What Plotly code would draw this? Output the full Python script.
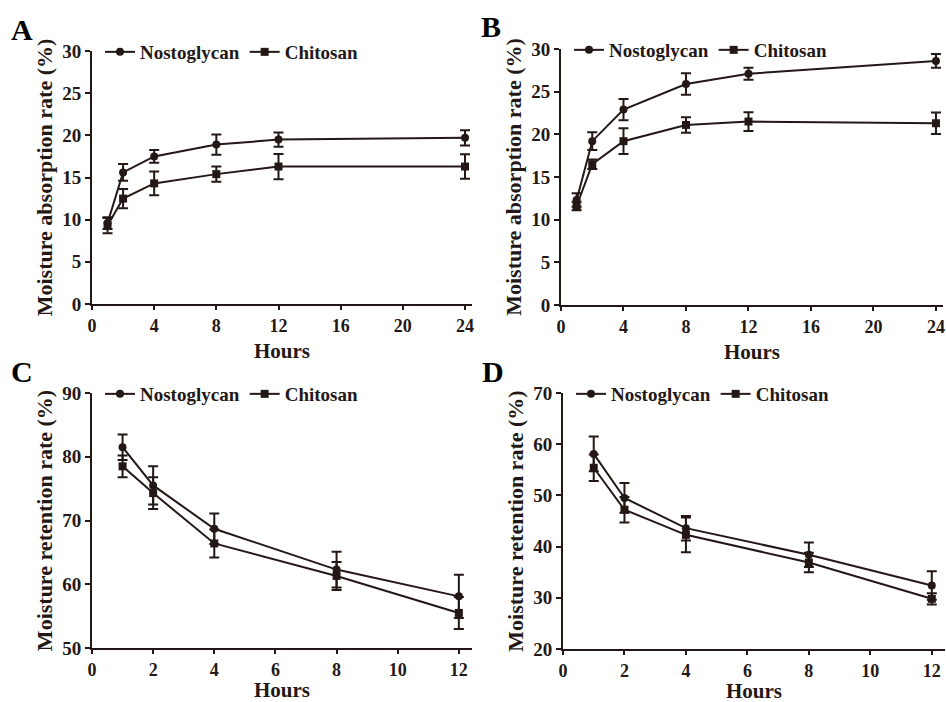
import plotly.graph_objects as go

W, H = 946, 702
INK = "#231815"
FONT = "Liberation Serif, Times New Roman, serif"

# ---- data ----
hours_ab = [1, 2, 4, 8, 12, 24]
hours_cd = [1, 2, 4, 8, 12]

a_nosto = [9.6, 15.6, 17.5, 18.9, 19.5, 19.7]
a_nosto_err = [0.7, 1.0, 0.75, 1.2, 0.85, 0.9]
a_chito = [9.3, 12.5, 14.3, 15.4, 16.3, 16.3]
a_chito_err = [0.9, 1.15, 1.4, 0.9, 1.5, 1.45]

b_nosto = [12.3, 19.2, 22.9, 25.9, 27.1, 28.6]
b_nosto_err = [0.8, 1.05, 1.25, 1.25, 0.7, 0.8]
b_chito = [11.6, 16.5, 19.2, 21.1, 21.5, 21.3]
b_chito_err = [0.5, 0.55, 1.5, 0.9, 1.1, 1.25]

c_nosto = [81.5, 75.5, 68.7, 62.3, 58.1]
c_nosto_err = [2.0, 3.0, 2.4, 2.8, 3.4]
c_chito = [78.5, 74.3, 66.4, 61.3, 55.5]
c_chito_err = [1.7, 2.5, 2.2, 2.2, 2.5]

d_nosto = [58.1, 49.5, 43.6, 38.4, 32.4]
d_nosto_err = [3.4, 2.9, 2.4, 2.4, 2.8]
d_chito = [55.4, 47.2, 42.3, 36.9, 29.8]
d_chito_err = [2.6, 2.5, 3.4, 1.9, 1.1]

series_names = ["Nostoglycan", "Chitosan"]
panel_letters = ["A", "B", "C", "D"]
ytitles = ["Moisture absorption rate (%)", "Moisture absorption rate (%)",
           "Moisture retention rate (%)", "Moisture retention rate (%)"]
xtitle = "Hours"

# ---- layout geometry (pixels) ----
# (x0, x1, ytop, ybottom)
boxes = [(92, 472, 51, 304), (561, 943, 49, 305), (92, 472, 393, 648), (563, 945, 393, 649)]
xtitle_gap = [47, 47, 42, 42]
xranges = [[0, 24.45], [0, 24.45], [0, 12.43], [0, 12.43]]
xticks = [list(range(0, 25, 4)), list(range(0, 25, 4)), list(range(0, 13, 2)), list(range(0, 13, 2))]
yranges = [[0, 30], [0, 30], [50, 90], [20, 70]]
yticks = [list(range(0, 31, 5)), list(range(0, 31, 5)), list(range(50, 91, 10)), list(range(20, 71, 10))]

panels = [
    (hours_ab, a_nosto, a_nosto_err, a_chito, a_chito_err),
    (hours_ab, b_nosto, b_nosto_err, b_chito, b_chito_err),
    (hours_cd, c_nosto, c_nosto_err, c_chito, c_chito_err),
    (hours_cd, d_nosto, d_nosto_err, d_chito, d_chito_err),
]

fig = go.Figure()
layout = dict(
    width=W, height=H, margin=dict(l=0, r=0, t=0, b=0, autoexpand=False),
    paper_bgcolor="white", plot_bgcolor="white",
    font=dict(family=FONT, size=19, color=INK, weight="bold"),
    showlegend=True,
)
annotations = []

for i, (hx, n, ne, c, ce) in enumerate(panels):
    k = "" if i == 0 else str(i + 1)
    x0, x1, yt, yb = boxes[i]
    leg = "legend" + k
    for name, vals, errs, sym in [(series_names[0], n, ne, "circle"), (series_names[1], c, ce, "square")]:
        fig.add_trace(go.Scatter(
            x=hx, y=vals, mode="lines+markers", name=name,
            xaxis="x" + k, yaxis="y" + k, legend=leg,
            line=dict(color=INK, width=2),
            marker=dict(symbol=sym, size=8, color=INK),
            error_y=dict(type="data", array=errs, visible=True, color=INK, thickness=2, width=5),
            cliponaxis=False,
        ))
    layout["xaxis" + k] = dict(
        domain=[x0 / W, x1 / W], anchor="y" + k, range=xranges[i], automargin=False,
        tickvals=xticks[i], ticks="outside", ticklen=4, tickwidth=2, tickcolor=INK,
        showline=True, linewidth=2, linecolor=INK, showgrid=False, zeroline=False,
        tickfont=dict(size=18, family=FONT, weight="bold"),
        fixedrange=True,
    )
    layout["yaxis" + k] = dict(
        domain=[1 - yb / H, 1 - yt / H], anchor="x" + k, range=yranges[i], automargin=False,
        tickvals=yticks[i], ticks="outside", ticklen=5, tickwidth=2, tickcolor=INK,
        showline=True, linewidth=2, linecolor=INK, showgrid=False, zeroline=False,
        tickfont=dict(size=19, family=FONT, weight="bold"),
        title=dict(text=ytitles[i], font=dict(size=22, family=FONT, weight="bold"), standoff=4),
        fixedrange=True,
    )
    layout[leg] = dict(
        orientation="h", x=(x0 + 8) / W, y=1 - (yt + 1) / H, xanchor="left", yanchor="middle",
        bgcolor="rgba(0,0,0,0)", font=dict(size=19, family=FONT, weight="bold", color=INK),
        itemwidth=30, tracegroupgap=0, traceorder="normal",
    )
    # x-axis title placed below the tick labels
    annotations.append(dict(
        text=xtitle, xref="x" + k + " domain", yref="paper",
        x=0.5, y=1 - (yb + xtitle_gap[i]) / H, xanchor="center", yanchor="middle",
        showarrow=False, borderpad=0,
        font=dict(size=21, family=FONT, weight="bold", color=INK),
    ))
    annotations.append(dict(
        text=panel_letters[i], xref="paper", yref="paper",
        x=(x0 - 70) / W, y=1 - (yt - 22) / H, xanchor="center", yanchor="middle",
        showarrow=False, font=dict(size=30, family=FONT, weight="bold", color="black"),
    ))

layout["annotations"] = annotations
fig.update_layout(**layout)
fig.write_html(
    "out.html",
    config={"displayModeBar": False},
    post_script="document.body.style.margin='0';document.body.style.overflow='hidden';",
)
